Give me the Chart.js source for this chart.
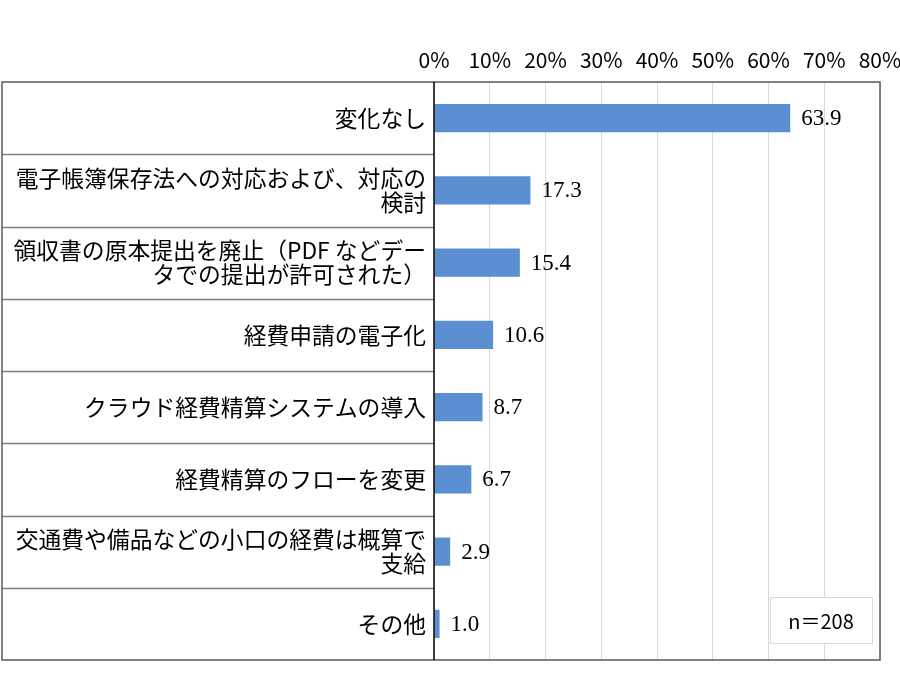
<!DOCTYPE html>
<html>
<head>
<meta charset="utf-8">
<script src="https://cdn.jsdelivr.net/npm/chart.js@4/dist/chart.umd.min.js"></script>
<style>
  html,body{margin:0;padding:0;background:#fff;}
  #wrap{width:900px;height:686px;}
</style>
</head>
<body>
<div id="wrap"><canvas id="c" width="900" height="686"></canvas></div>
<script>
const categories = [
  ["変化なし"],
  ["電子帳簿保存法への対応および、対応の", "検討"],
  ["領収書の原本提出を廃止（PDF などデー", "タでの提出が許可された）"],
  ["経費申請の電子化"],
  ["クラウド経費精算システムの導入"],
  ["経費精算のフローを変更"],
  ["交通費や備品などの小口の経費は概算で", "支給"],
  ["その他"]
];
const values = [63.9, 17.3, 15.4, 10.6, 8.7, 6.7, 2.9, 1.0];
const xTicks = [0, 10, 20, 30, 40, 50, 60, 70, 80];
const sampleNote = "n＝208";

const JP = "'Noto Sans CJK JP','Noto Sans',sans-serif";

const overlay = {
  id: 'overlay',
  afterDraw(chart) {
    const ctx = chart.ctx;
    const ca = chart.chartArea;
    const left = 2;
    const n = categories.length;
    const rowH = (ca.bottom - ca.top) / n;
    ctx.save();
    ctx.strokeStyle = '#7f7f7f';
    ctx.lineWidth = 1.5;
    for (let i = 1; i < n; i++) {
      const y = Math.round(ca.top + i * rowH) + 0.5;
      ctx.beginPath();
      ctx.moveTo(left, y);
      ctx.lineTo(ca.left, y);
      ctx.stroke();
    }
    ctx.strokeStyle = '#595959';
    ctx.lineWidth = 1.5;
    ctx.strokeRect(left, ca.top, ca.right - left, ca.bottom - ca.top);
    ctx.strokeStyle = '#000';
    ctx.lineWidth = 1.5;
    ctx.beginPath();
    ctx.moveTo(ca.left, ca.top);
    ctx.lineTo(ca.left, ca.bottom);
    ctx.stroke();
    const meta = chart.getDatasetMeta(0);
    ctx.fillStyle = '#000';
    ctx.font = "23px 'Liberation Serif','Times New Roman',serif";
    ctx.textAlign = 'left';
    ctx.textBaseline = 'middle';
    meta.data.forEach((bar, i) => {
      ctx.fillText(values[i].toFixed(1), bar.x + 11, bar.y + 1);
    });
    const bx = 770, by = 597, bw = 102, bh = 46;
    ctx.fillStyle = '#fff';
    ctx.fillRect(bx, by, bw, bh);
    ctx.strokeStyle = '#d9d9d9';
    ctx.lineWidth = 1;
    ctx.strokeRect(bx + 0.5, by + 0.5, bw, bh);
    ctx.fillStyle = '#000';
    ctx.font = "20px " + JP;
    ctx.textAlign = 'center';
    ctx.fillText(sampleNote, bx + bw / 2, by + bh / 2 + 1);
    ctx.restore();
  }
};

new Chart(document.getElementById('c'), {
  type: 'bar',
  data: {
    labels: categories,
    datasets: [{
      data: values,
      backgroundColor: '#5b8fd1',
      borderWidth: 0,
      categoryPercentage: 1.0,
      barPercentage: 0.39
    }]
  },
  options: {
    indexAxis: 'y',
    responsive: false,
    animation: false,
    devicePixelRatio: 1,
    layout: { padding: { left: 2, right: 20, top: 0, bottom: 26 } },
    plugins: { legend: { display: false }, tooltip: { enabled: false } },
    scales: {
      x: {
        position: 'top',
        min: 0,
        max: 80,
        afterBuildTicks(scale) { scale.ticks = xTicks.map(v => ({ value: v })); },
        afterFit(scale) { scale.height = 82; scale.paddingLeft = 0; scale.paddingRight = 0; },
        ticks: {
          callback: v => v + '%',
          color: '#000',
          font: { family: JP, size: 21 },
          padding: 9,
          maxRotation: 0,
          autoSkip: false
        },
        grid: { color: '#d9d9d9', lineWidth: 1, drawTicks: false },
        border: { display: false }
      },
      y: {
        afterFit(scale) { scale.width = 432; scale.paddingTop = 0; scale.paddingBottom = 0; },
        ticks: {
          color: '#000',
          font: { family: JP, size: 22.8, lineHeight: 1.05 },
          padding: 8
        },
        grid: { display: false, drawTicks: false },
        border: { display: false }
      }
    }
  },
  plugins: [overlay]
});
</script>
</body>
</html>
